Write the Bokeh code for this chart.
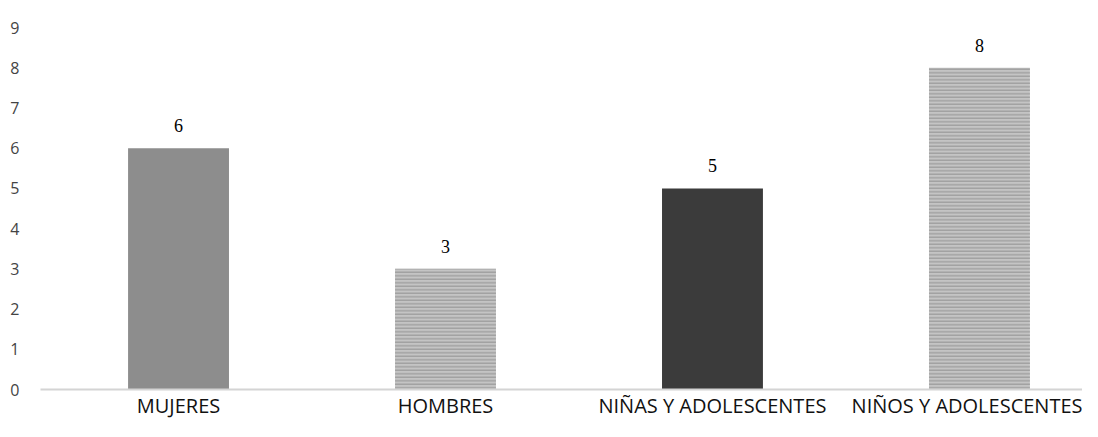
from bokeh.plotting import figure
from bokeh.models import ColumnDataSource, FixedTicker, Range1d, LabelSet
from bokeh.embed import file_html
from bokeh.resources import INLINE

categories = ["MUJERES", "HOMBRES", "NIÑAS Y ADOLESCENTES", "NIÑOS Y ADOLESCENTES"]
values = [6, 3, 5, 8]
y_ticks = [0, 1, 2, 3, 4, 5, 6, 7, 8, 9]

colors = ["#8d8d8d", "#c4c4c4", "#3b3b3b", "#c4c4c4"]
hatches = [" ", "-", " ", "-"]

xs = list(range(len(categories)))
src = ColumnDataSource(dict(x=xs, top=values, color=colors, hatch=hatches,
                            label=[str(v) for v in values]))

p = figure(width=1082, height=421, output_backend="svg", toolbar_location=None,
           x_range=Range1d(-0.517, 3.386), y_range=Range1d(0, 9.0),
           min_border_left=40, min_border_right=0, min_border_top=27, min_border_bottom=32)
p.outline_line_color = None
p.background_fill_color = "white"
p.border_fill_color = "white"
p.xgrid.grid_line_color = None
p.ygrid.grid_line_color = None

p.vbar(x="x", top="top", width=0.378, source=src, fill_color="color", line_color=None,
       hatch_pattern="hatch", hatch_color="#999999", hatch_scale=3.5, hatch_weight=1.2)

labels = LabelSet(x="x", y="top", text="label", source=src, text_align="center",
                  text_baseline="bottom", y_offset=16, text_font_size="18px",
                  text_color="#000000", text_font="Open Sans")
p.add_layout(labels)

p.xaxis.ticker = FixedTicker(ticks=xs)
p.xaxis.major_label_overrides = {i: c for i, c in zip(xs, categories)}
p.xaxis.major_tick_line_color = None
p.xaxis.minor_tick_line_color = None
p.xaxis.axis_line_color = "#d4d4d4"
p.xaxis.axis_line_width = 2
p.xaxis.major_label_text_font = "Open Sans"
p.xaxis.major_label_text_font_size = "20px"
p.xaxis.major_label_text_color = "#111111"
p.xaxis.major_label_standoff = -4

p.yaxis.ticker = FixedTicker(ticks=y_ticks)
p.yaxis.axis_line_color = None
p.yaxis.major_tick_line_color = None
p.yaxis.minor_tick_line_color = None
p.yaxis.major_label_text_font = "Open Sans"
p.yaxis.major_label_text_font_size = "16px"
p.yaxis.major_label_text_color = "#444444"
p.yaxis.major_label_standoff = 15

open("out.html", "w").write(file_html(p, INLINE))
